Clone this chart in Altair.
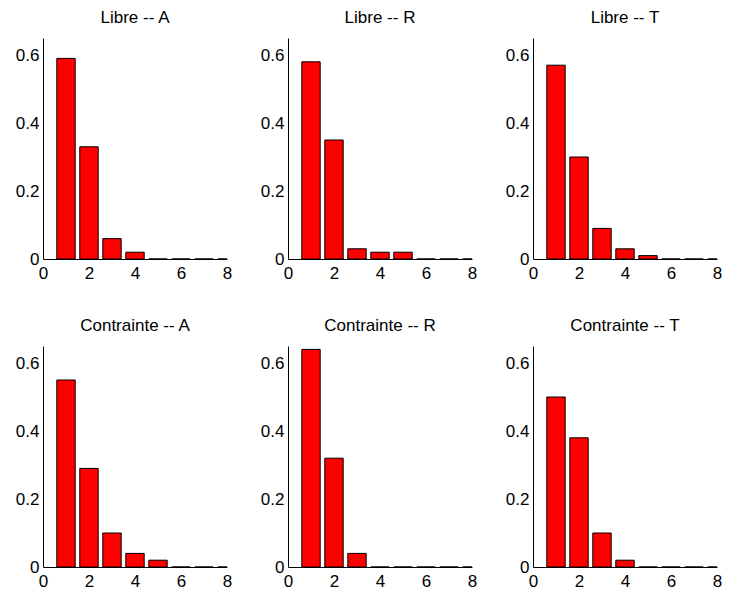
import altair as alt
import pandas as pd

groups = ["Libre", "Libre", "Libre", "Contrainte", "Contrainte", "Contrainte"]
letters = ["A", "R", "T", "A", "R", "T"]
positions = [1, 2, 3, 4, 5, 6, 7, 8]
values = [
    [0.59, 0.33, 0.06, 0.02, 0.0, 0.0, 0.0, 0.0],
    [0.58, 0.35, 0.03, 0.02, 0.02, 0.0, 0.0, 0.0],
    [0.57, 0.30, 0.09, 0.03, 0.01, 0.0, 0.0, 0.0],
    [0.55, 0.29, 0.10, 0.04, 0.02, 0.0, 0.0, 0.0],
    [0.64, 0.32, 0.04, 0.0, 0.0, 0.0, 0.0, 0.0],
    [0.50, 0.38, 0.10, 0.02, 0.0, 0.0, 0.0, 0.0],
]
x_ticks = [0, 2, 4, 6, 8]
y_ticks = [0, 0.2, 0.4, 0.6]

FONT = "Liberation Sans"


def panel(i):
    df = pd.DataFrame({"pos": positions, "val": values[i]})
    title = f"{groups[i]} -- {letters[i]}"
    return (
        alt.Chart(df)
        .transform_calculate(x0="datum.pos - 0.4", x1="datum.pos + 0.4")
        .mark_rect(color="#ff0000", stroke="black", strokeWidth=1, clip=True)
        .encode(
            x=alt.X(
                "x0:Q",
                scale=alt.Scale(domain=[0, 8], nice=False, zero=False),
                axis=alt.Axis(
                    values=x_ticks, title=None, grid=False, ticks=False,
                    domainColor="black", labelColor="black", labelFont=FONT,
                    labelFontSize=17, labelPadding=6, labelFlush=False,
                ),
            ),
            x2="x1:Q",
            y=alt.Y(
                "val:Q",
                scale=alt.Scale(domain=[0, 0.65], nice=False),
                axis=alt.Axis(
                    values=y_ticks, title=None, grid=False, ticks=False,
                    domainColor="black", labelColor="black", labelFont=FONT,
                    labelFontSize=17, labelPadding=4, labelFlush=False,
                    labelExpr="datum.value == 0 ? '0' : format(datum.value, '.1f')",
                ),
            ),
            y2=alt.datum(0),
        )
        .properties(
            width=184,
            height=221,
            title=alt.TitleParams(
                title, font=FONT, fontSize=17, fontWeight="normal",
                color="black", offset=11,
            ),
        )
    )


row1 = alt.hconcat(panel(0), panel(1), panel(2), spacing=28)
row2 = alt.hconcat(panel(3), panel(4), panel(5), spacing=28)
chart = (
    alt.vconcat(row1, row2, spacing=36)
    .properties(padding={"left": 7, "top": 1, "right": 0, "bottom": 0})
    .configure_view(stroke=None)
)

chart.save("out.html", embed_options={"renderer": "svg", "actions": False})
